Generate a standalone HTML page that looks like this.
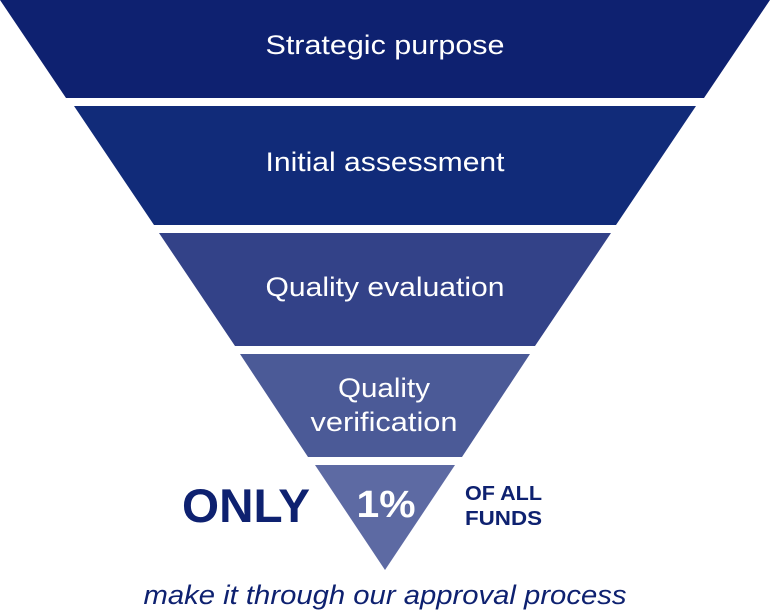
<!DOCTYPE html>
<html><head><style>
html,body{margin:0;padding:0;background:#fff;width:770px;height:612px;overflow:hidden}
svg{display:block}
text{font-family:"Liberation Sans",Arial,sans-serif}
</style></head><body>
<svg width="770" height="612" viewBox="0 0 770 612">
<polygon points="0,0 770,0 704,98 66,98" fill="#0e2170"/>
<polygon points="74,106 696,106 616,225 154,225" fill="#112b79"/>
<polygon points="159,233 611,233 535,346 235,346" fill="#334288"/>
<polygon points="240,354 530,354 462,457 308,457" fill="#4b5a97"/>
<polygon points="315,465 455,465 385,570" fill="#5d6aa3"/>
<g fill="#fff" font-size="27" text-anchor="middle" lengthAdjust="spacingAndGlyphs">
<text x="385" y="54" textLength="239" lengthAdjust="spacingAndGlyphs">Strategic purpose</text>
<text x="385" y="171" textLength="239" lengthAdjust="spacingAndGlyphs">Initial assessment</text>
<text x="385" y="296" textLength="239" lengthAdjust="spacingAndGlyphs">Quality evaluation</text>
<text x="384" y="397" textLength="92" lengthAdjust="spacingAndGlyphs">Quality</text>
<text x="384" y="431" textLength="147" lengthAdjust="spacingAndGlyphs">verification</text>
<text x="386" y="517" font-size="38" font-weight="bold" textLength="59" lengthAdjust="spacingAndGlyphs">1%</text>
</g>
<text x="246" y="522" font-size="47" font-weight="bold" fill="#0e2170" text-anchor="middle" textLength="128" lengthAdjust="spacingAndGlyphs">ONLY</text>
<g fill="#0e2170" font-size="20" font-weight="bold">
<text x="465" y="500" textLength="77" lengthAdjust="spacingAndGlyphs">OF ALL</text>
<text x="465" y="525" textLength="77" lengthAdjust="spacingAndGlyphs">FUNDS</text>
</g>
<text x="385" y="604" font-size="27" font-style="italic" fill="#0e2170" text-anchor="middle" textLength="483" lengthAdjust="spacingAndGlyphs">make it through our approval process</text>
</svg>
</body></html>
